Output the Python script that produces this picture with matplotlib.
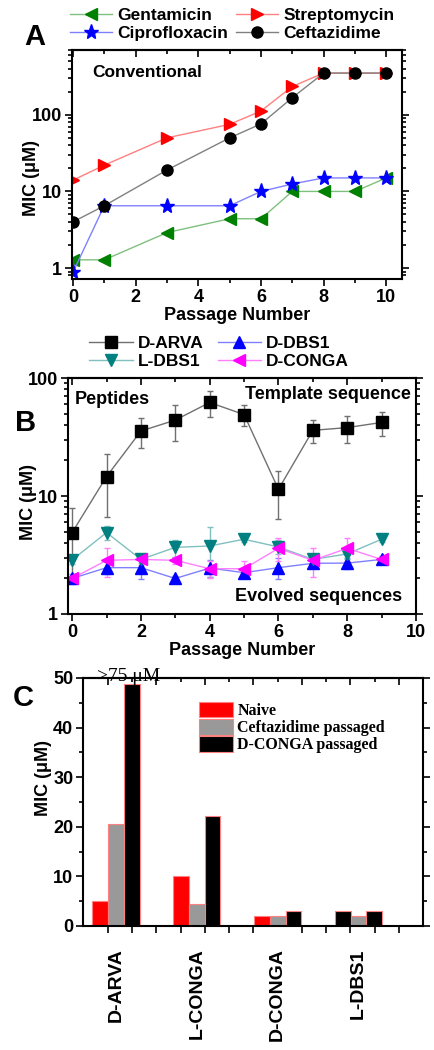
import numpy as np
import matplotlib
matplotlib.use("Agg")
import matplotlib.pyplot as plt
from matplotlib.ticker import MultipleLocator, FixedLocator, NullFormatter, LogLocator

plt.rcParams['font.family'] = ['Liberation Sans', 'DejaVu Sans']
plt.rcParams['font.weight'] = 'bold'
plt.rcParams['axes.linewidth'] = 1.5

# ---- panel A data (conventional antibiotics)
passA = [0, 1, 3, 5, 6, 7, 8, 9, 10]
gentamicin = [1.28, 1.28, 2.9, 4.4, 4.4, 10, 10, 10, 15]
streptomycin = [14, 22, 50, 75, 112, 234, 350, 350, 350]
ciprofloxacin = [0.88, 6.5, 6.5, 6.5, 10, 12.5, 15, 15, 15]
ceftazidime = [4, 6.5, 19, 50, 76, 167, 350, 350, 350]

# ---- panel B data (peptides)
passB = [0, 1, 2, 3, 4, 5, 6, 7, 8, 9]
d_arva = [4.9, 14.6, 35.5, 44, 62, 49, 11.4, 36, 38, 42]
d_arva_err = [3, 8, 10, 15, 15, 10, 5, 8, 10, 10]
d_dbs1 = [2.0, 2.47, 2.47, 2.0, 2.45, 2.24, 2.47, 2.69, 2.7, 2.9]
d_dbs1_err = [0.2, 0.3, 0.5, 0.1, 0.4, 0.2, 0.5, 0.2, 0.3, 0.2]
l_dbs1 = [2.87, 4.9, 2.9, 3.67, 3.77, 4.3, 3.7, 2.9, 3.23, 4.3]
l_dbs1_err = [0.2, 0.7, 0.2, 0.6, 1.7, 0.2, 0.5, 0.2, 0.3, 0.2]
d_conga = [2.0, 2.85, 2.9, 2.85, 2.42, 2.42, 3.6, 2.85, 3.6, 2.9]
d_conga_err = [0.1, 0.8, 0.3, 0.2, 0.4, 0.4, 0.8, 0.8, 0.8, 0.2]

# ---- panel C data
peptides = ['D-ARVA', 'L-CONGA', 'D-CONGA', 'L-DBS1']
naive = [5, 10, 2, 3]
ceftaz_passaged = [20.5, 4.4, 2, 2]
dconga_passaged = [48.8, 22.2, 3, 3]
naive_colors = ['#ff0000', '#ff0000', '#ff0000', '#000000']

fig = plt.figure(figsize=(4.34, 10.5), dpi=100)

tick_kw = dict(labelsize=13, width=1.2)


def top_ticks(ax, major, minor):
    # inward ticks on the top spine, no labels
    sec = ax.secondary_xaxis('top')
    sec.xaxis.set_major_locator(major)
    sec.xaxis.set_minor_locator(minor)
    sec.tick_params(which='both', direction='in', labeltop=False, width=1.2)
    sec.tick_params(which='major', length=5)
    sec.tick_params(which='minor', length=3)
    sec.spines['top'].set_linewidth(1.5)


# ================= A =================
axA = fig.add_axes([72/434, 1-279/1050, 330/434, 229/1050])
lA = []
lA += axA.plot(passA, gentamicin, color='#7fc07f', lw=1, marker='<', ms=9,
               mfc='#008000', mec='#008000', label='Gentamicin')
lA += axA.plot(passA, streptomycin, color='#ff8080', lw=1, marker='>', ms=9,
               mfc='#ff0000', mec='#ff0000', label='Streptomycin')
lA += axA.plot(passA, ciprofloxacin, color='#8080ff', lw=1, marker='*', ms=11,
               mfc='#0000ff', mec='#0000ff', label='Ciprofloxacin')
lA += axA.plot(passA, ceftazidime, color='#808080', lw=1, marker='o', ms=8,
               mfc='#000000', mec='#000000', label='Ceftazidime')
axA.set_yscale('log')
axA.set_ylim(0.72, 700)
axA.set_xlim(-0.03, 10.5)
axA.xaxis.set_major_locator(MultipleLocator(2))
axA.xaxis.set_minor_locator(MultipleLocator(1))
axA.yaxis.set_major_locator(FixedLocator([1, 10, 100]))
axA.set_yticklabels(['1', '10', '100'])
axA.yaxis.set_minor_locator(LogLocator(subs=np.arange(2, 10)))
axA.yaxis.set_minor_formatter(NullFormatter())
axA.tick_params(which='both', right=True, **tick_kw)
axA.tick_params(which='major', length=5, pad=2)
axA.tick_params(which='minor', length=3)
top_ticks(axA, MultipleLocator(2), MultipleLocator(1))
axA.set_xlabel('Passage Number', fontsize=13, fontweight='bold', labelpad=1)
axA.set_ylabel('MIC (μM)', fontsize=13, fontweight='bold')
axA.yaxis.set_label_coords(-0.097, 0.44)
axA.text(0.06, 0.9, 'Conventional', transform=axA.transAxes, fontsize=12.5,
         fontweight='bold', va='center')
fig.text(35/434, 1-37/1050, 'A', fontsize=21, fontweight='bold',
         ha='center', va='center')
fig.legend([lA[0], lA[2], lA[1], lA[3]],
           ['Gentamicin', 'Ciprofloxacin', 'Streptomycin', 'Ceftazidime'],
           ncol=2, loc='center', bbox_to_anchor=(0.535, 1-24.5/1050),
           frameon=False, fontsize=12.5, handlelength=2.4, columnspacing=0.5,
           handletextpad=0.3, labelspacing=0.15, borderpad=0)

# ================= B =================
axB = fig.add_axes([68/434, 1-614/1050, 348/434, 236/1050])
eb = dict(capsize=2.5, elinewidth=1, capthick=1)
cB = []
cB.append(axB.errorbar(passB, d_arva, yerr=d_arva_err, color='#707070', lw=1,
                       marker='s', ms=8, mfc='#000000', mec='#000000',
                       ecolor='#707070', **eb))
cB.append(axB.errorbar(passB, d_dbs1, yerr=d_dbs1_err, color='#8080ff', lw=1,
                       marker='^', ms=9, mfc='#0000ff', mec='#0000ff',
                       ecolor='#8080ff', **eb))
cB.append(axB.errorbar(passB, l_dbs1, yerr=l_dbs1_err, color='#80c0c0', lw=1,
                       marker='v', ms=9, mfc='#008080', mec='#008080',
                       ecolor='#80c0c0', **eb))
cB.append(axB.errorbar(passB, d_conga, yerr=d_conga_err, color='#ff80ff', lw=1,
                       marker='<', ms=9, mfc='#ff00ff', mec='#ff00ff',
                       ecolor='#ff80ff', **eb))
axB.set_yscale('log')
axB.set_ylim(1, 100)
axB.set_xlim(-0.12, 10)
axB.xaxis.set_major_locator(MultipleLocator(2))
axB.xaxis.set_minor_locator(MultipleLocator(1))
axB.yaxis.set_major_locator(FixedLocator([1, 10, 100]))
axB.set_yticklabels(['1', '10', '100'])
axB.yaxis.set_minor_locator(LogLocator(subs=np.arange(2, 10)))
axB.yaxis.set_minor_formatter(NullFormatter())
axB.tick_params(which='both', right=True, **tick_kw)
axB.tick_params(which='major', length=5, pad=2)
axB.tick_params(which='minor', length=3)
top_ticks(axB, MultipleLocator(2), MultipleLocator(1))
axB.set_xlabel('Passage Number', fontsize=13, fontweight='bold', labelpad=1)
axB.set_ylabel('MIC (μM)', fontsize=13, fontweight='bold')
axB.yaxis.set_label_coords(-0.089, 0.475)
axB.text(0.02, 0.91, 'Peptides', transform=axB.transAxes, fontsize=13,
         fontweight='bold', va='center')
axB.text(0.985, 0.93, 'Template sequence', transform=axB.transAxes, fontsize=13,
         fontweight='bold', va='center', ha='right')
axB.text(0.96, 0.075, 'Evolved sequences', transform=axB.transAxes, fontsize=13,
         fontweight='bold', va='center', ha='right')
fig.text(26/434, 1-423/1050, 'B', fontsize=21, fontweight='bold',
         ha='center', va='center')
fig.legend([cB[0][0], cB[2][0], cB[1][0], cB[3][0]],
           ['D-ARVA', 'L-DBS1', 'D-DBS1', 'D-CONGA'],
           ncol=2, loc='center', bbox_to_anchor=(0.505, 1-352.5/1050),
           frameon=False, fontsize=12.5, handlelength=2.5, columnspacing=0.8,
           handletextpad=0.3, labelspacing=0.15, borderpad=0)

# ================= C =================
axC = fig.add_axes([83/434, 1-926/1050, 340/434, 248/1050])
xpos = np.arange(1, len(peptides) + 1)
w = 0.195
axC.bar(xpos - w, naive, width=w, color=naive_colors, edgecolor='#ff8080',
        lw=0.8, label='Naive')
axC.bar(xpos, ceftaz_passaged, width=w, color='#999999', edgecolor='#ff8080',
        lw=0.8, label='Ceftazidime passaged')
axC.bar(xpos + w, dconga_passaged, width=w, color='#000000', edgecolor='#ff8080',
        lw=0.8, label='D-CONGA passaged')
axC.set_xlim(0.59, 4.80)
axC.set_ylim(0, 50)
axC.yaxis.set_major_locator(MultipleLocator(10))
axC.yaxis.set_minor_locator(MultipleLocator(5))
axC.set_xticks(xpos)
axC.set_xticklabels(peptides, rotation=90, fontsize=14, fontweight='bold')
axC.tick_params(axis='x', which='major', length=0, pad=16)
axC.xaxis.set_minor_locator(FixedLocator(np.arange(0.9, 4.8, 0.3)))
axC.tick_params(axis='x', which='minor', length=5, width=1.2)
axC.tick_params(axis='y', which='both', right=True, **tick_kw)
axC.tick_params(axis='y', which='major', length=5, pad=2)
axC.tick_params(axis='y', which='minor', length=3)
top_ticks(axC, FixedLocator(np.arange(0.9, 4.8, 0.6)),
          FixedLocator(np.arange(1.2, 4.8, 0.6)))
axC.set_ylabel('MIC (μM)', fontsize=13, fontweight='bold')
axC.yaxis.set_label_coords(-0.091, 0.597)
axC.text(1.15, 50.3, '>75 μM', fontsize=14, fontfamily='Liberation Serif',
         fontweight='normal', ha='center', va='center')
fig.text(23/434, 1-698/1050, 'C', fontsize=21, fontweight='bold',
         ha='center', va='center')
legC = axC.legend(loc='upper left', bbox_to_anchor=(0.318, 0.935), frameon=False,
                  prop={'family': 'Liberation Serif', 'weight': 'bold', 'size': 11.5},
                  handlelength=2.1, handleheight=1.1, handletextpad=0.3,
                  labelspacing=0.0, borderpad=0)
legC.legend_handles[0].set_color('#ff0000')
legC.legend_handles[0].set_edgecolor('#ff8080')

fig.savefig('out.png', dpi=100)
